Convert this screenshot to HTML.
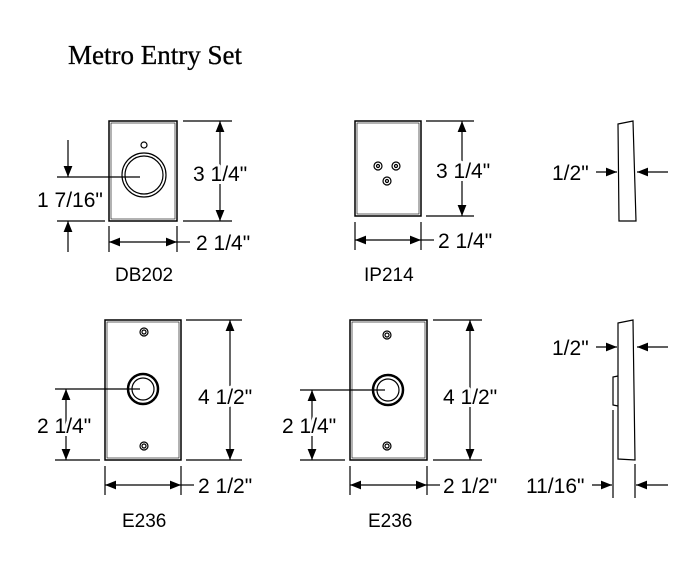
<!DOCTYPE html>
<html><head><style>body{margin:0;background:#fff}svg{display:block}</style></head><body>
<svg width="699" height="568" viewBox="0 0 699 568" xmlns="http://www.w3.org/2000/svg">
<defs>
<marker id="a" viewBox="0 0 10 8" refX="10" refY="4" markerWidth="11" markerHeight="9" markerUnits="userSpaceOnUse" orient="auto-start-reverse"><path d="M0,0L10,4L0,8z" fill="#000"/></marker>
</defs>
<text x="68" y="64" font-family="Liberation Serif, serif" font-size="27" fill="#000" stroke="#000" stroke-width="0.3">Metro Entry Set</text>
<g stroke="#000" stroke-width="1.2" fill="none">
<!-- DB202 -->
<rect x="109" y="121" width="68" height="100" stroke-width="1.5"/>
<rect x="111" y="123" width="64" height="96" stroke-width="0.6"/>
<circle cx="144" cy="175" r="22"/><circle cx="144" cy="175" r="19"/>
<circle cx="144" cy="145" r="3"/>
<line x1="183" y1="121" x2="232" y2="121"/><line x1="183" y1="221" x2="232" y2="221"/>
<line x1="220" y1="121" x2="220" y2="221" marker-start="url(#a)" marker-end="url(#a)"/>
<line x1="109" y1="226" x2="109" y2="252"/><line x1="177" y1="226" x2="177" y2="252"/>
<line x1="109" y1="242" x2="177" y2="242" marker-start="url(#a)" marker-end="url(#a)"/>
<line x1="177" y1="242" x2="190" y2="242"/>
<line x1="57" y1="177" x2="140" y2="177"/>
<line x1="68" y1="140" x2="68" y2="177" marker-end="url(#a)"/>
<line x1="57" y1="221" x2="105" y2="221"/>
<line x1="68" y1="252" x2="68" y2="221" marker-end="url(#a)"/>
<!-- IP214 -->
<rect x="355" y="121" width="66" height="95" stroke-width="1.5"/>
<rect x="357" y="123" width="62" height="91" stroke-width="0.6"/>
<circle cx="378" cy="166" r="4"/><circle cx="396" cy="166" r="4"/><circle cx="387" cy="181" r="4"/>
<circle cx="378" cy="166" r="1.5"/><circle cx="396" cy="166" r="1.5"/><circle cx="387" cy="181" r="1.5"/>
<line x1="426" y1="121" x2="474" y2="121"/><line x1="426" y1="216" x2="474" y2="216"/>
<line x1="462" y1="121" x2="462" y2="216" marker-start="url(#a)" marker-end="url(#a)"/>
<line x1="355" y1="222" x2="355" y2="250"/><line x1="421" y1="222" x2="421" y2="250"/>
<line x1="355" y1="240" x2="421" y2="240" marker-start="url(#a)" marker-end="url(#a)"/>
<line x1="421" y1="240" x2="434" y2="240"/>
<!-- side top -->
<path d="M618,124 L633,121 L636,221 L619,221 Z"/>
<line x1="596" y1="172" x2="617" y2="172" marker-end="url(#a)"/>
<line x1="668" y1="172" x2="637" y2="172" marker-end="url(#a)"/>
<!-- E236 left -->
<rect x="105" y="320" width="76" height="140" stroke-width="1.5"/>
<rect x="107" y="322" width="72" height="136" stroke-width="0.6"/>
<circle cx="144" cy="332" r="4"/><circle cx="144" cy="332" r="2"/>
<circle cx="144" cy="446" r="4"/><circle cx="144" cy="446" r="2"/>
<circle cx="143" cy="389" r="15" stroke-width="2.5"/><circle cx="143" cy="389" r="11"/>
<line x1="186" y1="320" x2="242" y2="320"/><line x1="186" y1="460" x2="242" y2="460"/>
<line x1="230" y1="320" x2="230" y2="460" marker-start="url(#a)" marker-end="url(#a)"/>
<line x1="105" y1="466" x2="105" y2="495"/><line x1="181" y1="466" x2="181" y2="495"/>
<line x1="105" y1="485" x2="181" y2="485" marker-start="url(#a)" marker-end="url(#a)"/>
<line x1="181" y1="485" x2="194" y2="485"/>
<line x1="55" y1="389" x2="140" y2="389"/>
<line x1="66" y1="389" x2="66" y2="460" marker-start="url(#a)" marker-end="url(#a)"/>
<line x1="55" y1="460" x2="100" y2="460"/>
<!-- E236 center -->
<rect x="350" y="320" width="77" height="140" stroke-width="1.5"/>
<rect x="352" y="322" width="73" height="136" stroke-width="0.6"/>
<circle cx="387" cy="335" r="4"/><circle cx="387" cy="335" r="2"/>
<circle cx="387" cy="446" r="4"/><circle cx="387" cy="446" r="2"/>
<circle cx="388" cy="390" r="15" stroke-width="2.5"/><circle cx="388" cy="390" r="11"/>
<line x1="433" y1="320" x2="482" y2="320"/><line x1="433" y1="460" x2="482" y2="460"/>
<line x1="470" y1="320" x2="470" y2="460" marker-start="url(#a)" marker-end="url(#a)"/>
<line x1="350" y1="466" x2="350" y2="495"/><line x1="427" y1="466" x2="427" y2="495"/>
<line x1="350" y1="485" x2="427" y2="485" marker-start="url(#a)" marker-end="url(#a)"/>
<line x1="427" y1="485" x2="440" y2="485"/>
<line x1="300" y1="390" x2="385" y2="390"/>
<line x1="312" y1="390" x2="312" y2="460" marker-start="url(#a)" marker-end="url(#a)"/>
<line x1="300" y1="460" x2="345" y2="460"/>
<!-- side bottom -->
<path d="M618,323 L633,320 L635,460 L618,459 Z"/>
<path d="M618,376 L613,377 L613,405 L618,406"/>
<line x1="613" y1="410" x2="613" y2="498"/>
<line x1="635" y1="464" x2="635" y2="498"/>
<line x1="596" y1="347" x2="617" y2="347" marker-end="url(#a)"/>
<line x1="668" y1="347" x2="637" y2="347" marker-end="url(#a)"/>
<line x1="592" y1="485" x2="612" y2="485" marker-end="url(#a)"/>
<line x1="668" y1="485" x2="636" y2="485" marker-end="url(#a)"/>
</g>
<g font-family="Liberation Sans, sans-serif" font-size="21" fill="#000" stroke="#fff" stroke-width="6" paint-order="stroke" stroke-linejoin="round">
<text x="193" y="181">3 1/4"</text>
<text x="196" y="250">2 1/4"</text>
<text x="37" y="207">1 7/16"</text>
<text x="436" y="178">3 1/4"</text>
<text x="438" y="248">2 1/4"</text>
<text x="552" y="180">1/2"</text>
<text x="198" y="404">4 1/2"</text>
<text x="198" y="493">2 1/2"</text>
<text x="37" y="433">2 1/4"</text>
<text x="443" y="404">4 1/2"</text>
<text x="443" y="493">2 1/2"</text>
<text x="282" y="433">2 1/4"</text>
<text x="552" y="355">1/2"</text>
<text x="526" y="493">11/16"</text>
</g>
<g font-family="Liberation Sans, sans-serif" font-size="19" fill="#000">
<text x="115" y="281">DB202</text>
<text x="364" y="281">IP214</text>
<text x="122" y="527">E236</text>
<text x="368" y="527">E236</text>
</g>
</svg>
</body></html>
